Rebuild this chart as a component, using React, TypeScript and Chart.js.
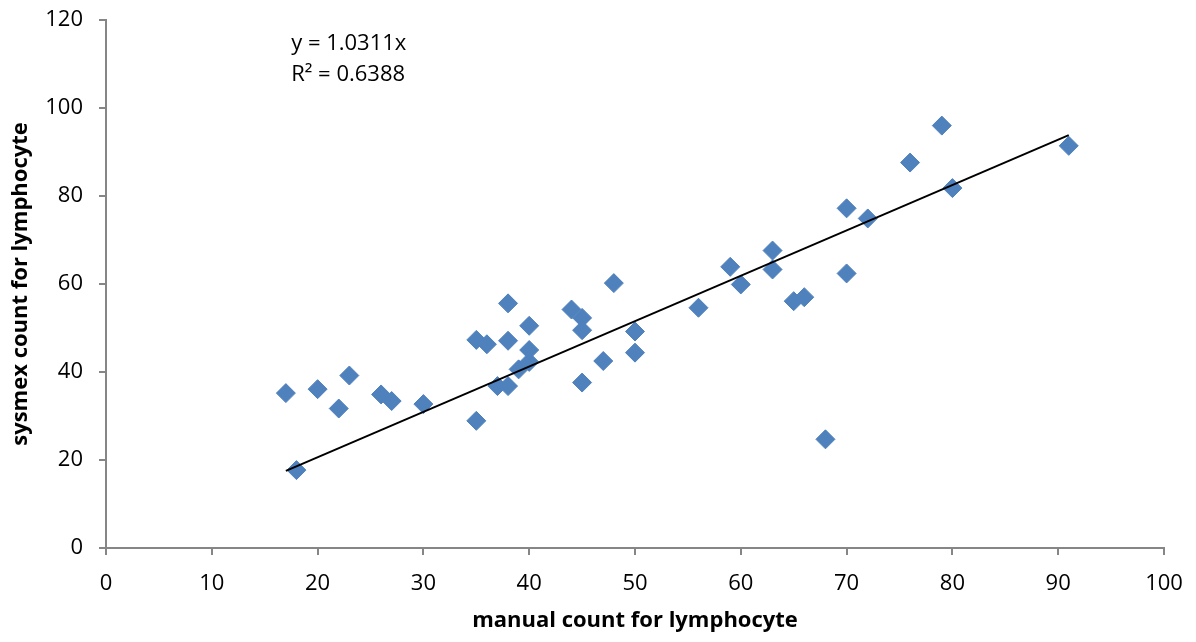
import React, { useEffect, useRef } from "react";
import { Chart, registerables } from "chart.js";

Chart.register(...registerables);

// Paired lymphocyte counts: manual differential vs. Sysmex analyser
const manualCounts = [
  17, 18, 20, 22, 23, 26, 27, 30, 35, 35, 36, 37, 38, 38, 38, 39, 40, 40, 40,
  44, 45, 45, 45, 47, 48, 50, 50, 56, 59, 60, 63, 63, 65, 66, 68, 70, 70, 72,
  76, 79, 80, 91,
];
const sysmexCounts = [
  35.2, 17.7, 36.1, 31.7, 39.2, 34.9, 33.4, 32.7, 28.9, 47.3, 46.3, 36.8, 36.8,
  47.1, 55.6, 40.6, 42.3, 45.0, 50.5, 54.2, 52.3, 49.5, 37.6, 42.5, 60.2, 49.2,
  44.4, 54.6, 63.9, 59.9, 67.6, 63.3, 56.1, 57.0, 24.7, 77.2, 62.4, 74.9, 87.6,
  96.0, 81.8, 91.4,
];

// Linear fit through the origin
const trendSlope = 1.0311;
const trendRSquared = 0.6388;
const equationLines = [`y = ${trendSlope}x`, `R² = ${trendRSquared}`];

const xTicks = { min: 0, max: 100, step: 10 };
const yTicks = { min: 0, max: 120, step: 20 };

const FONT = "'Open Sans', 'Liberation Sans', sans-serif";
const AXIS_GREY = "#868686";
const MARKER_BLUE = "#4F81BD";

const equationLabel = {
  id: "equationLabel",
  afterDatasetsDraw(chart: any) {
    const { ctx, scales } = chart;
    const x = scales.x.getPixelForValue(17.5);
    const y0 = scales.y.getPixelForValue(114.7);
    ctx.save();
    ctx.font = `22px ${FONT}`;
    ctx.fillStyle = "#000";
    ctx.textAlign = "left";
    ctx.textBaseline = "middle";
    equationLines.forEach((line, i) => ctx.fillText(line, x, y0 + i * 31));
    ctx.restore();
  },
};

export default function App() {
  const canvasRef = useRef<HTMLCanvasElement | null>(null);

  useEffect(() => {
    if (!canvasRef.current) return;
    const points = manualCounts.map((x, i) => ({ x, y: sysmexCounts[i] }));
    const xMin = Math.min(...manualCounts);
    const xMax = Math.max(...manualCounts);
    const trend = [
      { x: xMin, y: trendSlope * xMin },
      { x: xMax, y: trendSlope * xMax },
    ];

    const chart = new Chart(canvasRef.current, {
      type: "scatter",
      data: {
        datasets: [
          {
            type: "line",
            label: "Linear trend",
            data: trend,
            borderColor: "#000",
            borderWidth: 2,
            pointRadius: 0,
            fill: false,
          },
          {
            label: "lymphocyte",
            data: points,
            pointStyle: "rectRot",
            pointRadius: 9.5,
            pointHoverRadius: 9.5,
            backgroundColor: MARKER_BLUE,
            borderColor: MARKER_BLUE,
            borderWidth: 1,
          },
        ],
      },
      options: {
        animation: false,
        responsive: true,
        maintainAspectRatio: false,
        layout: { padding: { top: 12, right: 24, left: 0, bottom: 0 } },
        plugins: {
          legend: { display: false },
          tooltip: { enabled: false },
        },
        scales: {
          x: {
            type: "linear",
            min: xTicks.min,
            max: xTicks.max,
            afterFit: (s: any) => {
              s.height = 86;
              s.paddingLeft = 0;
              s.paddingRight = 0;
            },
            ticks: {
              stepSize: xTicks.step,
              color: "#000",
              font: { family: FONT, size: 22 },
              padding: 16,
              maxRotation: 0,
            },
            grid: {
              drawOnChartArea: false,
              drawTicks: true,
              tickLength: 7,
              color: AXIS_GREY,
              lineWidth: 2,
            },
            border: { display: true, color: AXIS_GREY, width: 2 },
            title: {
              display: true,
              text: "manual count for lymphocyte",
              color: "#000",
              font: { family: FONT, size: 22, weight: "bold" },
              padding: { top: 0, bottom: 0 },
            },
          },
          y: {
            type: "linear",
            min: yTicks.min,
            max: yTicks.max,
            afterFit: (s: any) => {
              s.width = 98;
              s.paddingTop = 0;
              s.paddingBottom = 0;
            },
            ticks: {
              stepSize: yTicks.step,
              color: "#000",
              font: { family: FONT, size: 22 },
              padding: 16,
            },
            grid: {
              drawOnChartArea: false,
              drawTicks: true,
              tickLength: 7,
              color: AXIS_GREY,
              lineWidth: 2,
            },
            border: { display: true, color: AXIS_GREY, width: 2 },
            title: {
              display: true,
              text: "sysmex count for lymphocyte",
              color: "#000",
              font: { family: FONT, size: 22, weight: "bold" },
              padding: { top: 0, bottom: 0 },
            },
          },
        },
      },
      plugins: [equationLabel],
    });

    return () => chart.destroy();
  }, []);

  return (
    <div style={{ width: 1180, height: 626, position: "relative" }}>
      <canvas ref={canvasRef} />
    </div>
  );
}
